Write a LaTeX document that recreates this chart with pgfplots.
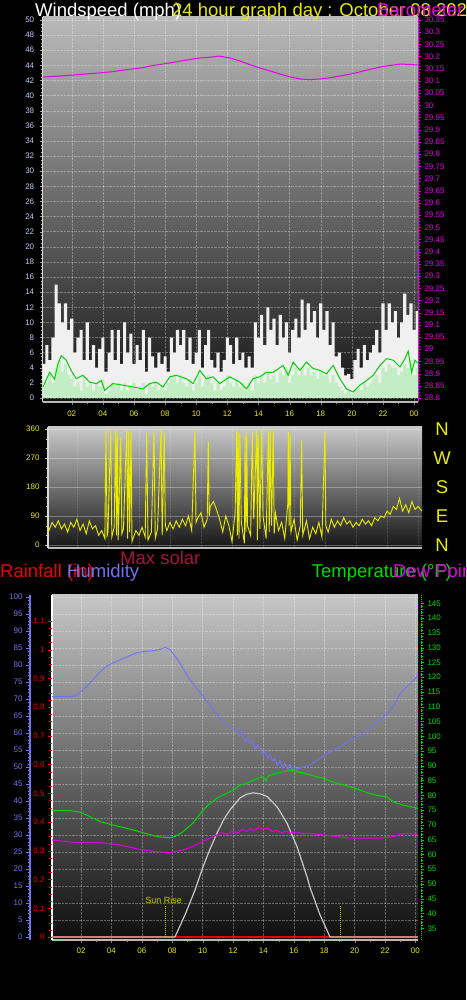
\documentclass[border=0pt]{standalone}
\usepackage{fontspec}
\setmainfont{Liberation Sans}
\usepackage{pgfplots}
\usepackage{pgfplotstable}
\pgfplotsset{compat=1.18}

\definecolor{windlbl}{RGB}{185,205,255}
\definecolor{baro}{RGB}{230,0,230}
\definecolor{ylw}{RGB}{235,235,0}
\definecolor{gustc}{RGB}{240,240,240}
\definecolor{speedc}{RGB}{195,238,195}
\definecolor{avgc}{RGB}{0,210,0}
\definecolor{humc}{RGB}{115,115,240}
\definecolor{tempc}{RGB}{0,220,0}
\definecolor{dewc}{RGB}{225,0,225}
\definecolor{rainc}{RGB}{240,0,0}
\definecolor{solarc}{RGB}{200,200,200}
\definecolor{maxsol}{RGB}{165,20,60}

\newcommand{\tl}{\fontsize{8}{9}\selectfont}
\newcommand{\tf}{\fontsize{18.5}{20}\selectfont}

\pgfplotsset{
  panel/.style={scale only axis, anchor=south west, tick align=outside,
    major tick length=3pt, minor tick length=2pt,
    ticklabel style={font=\tl},
    /pgf/number format/assume math mode=true,
    axis line style={-}},
}

% wind: hour, gust, speed
\pgfplotstableread{
h g s
0.1 4.5 1.5
0.3 7 2
0.5 5 3
0.7 8 2
0.9 15 4
1.1 12.5 5
1.3 10 3.5
1.5 12.5 4.5
1.7 9 3
1.9 10.5 2.5
2.1 6 1.5
2.3 8 2
2.5 9 1
2.7 5 2.5
2.9 10 1.5
3.1 5 2
3.3 7 1
3.5 4 2
3.7 6.5 1.5
3.9 8 2.5
4.1 3.5 0.5
4.3 6 1
4.5 9 2
4.7 5 1.5
4.9 9 2
5.1 4.5 1
5.3 10 2
5.5 6 1
5.7 8.5 1.5
5.9 4.5 2
6.1 7 1
6.3 5 1.5
6.5 9 2
6.7 3.5 0.5
6.9 8 2
7.1 5.5 1.5
7.3 4 2
7.5 6 1
7.7 4.5 1.5
7.9 5.5 1
8.1 3.5 2
8.3 8 2.5
8.5 6 3
8.7 9 2
8.9 7 3
9.1 9 2
9.3 5 1.5
9.5 8 2.5
9.7 4.5 1
9.9 6 2
10.1 9 3
10.3 4 1.5
10.5 7 2.5
10.7 9 3
10.9 5 2
11.1 4 1
11.3 6 2
11.5 3.5 1
11.7 5 1.5
11.9 8 3
12.1 7 2
12.3 4.5 1.5
12.5 8 2.5
12.7 5 1.5
12.9 6 2
13.1 4 1
13.3 5.5 2
13.5 4 1
13.7 10 3
13.9 8 2
14.1 11 3
14.3 7 2
14.5 12 3.5
14.7 9 2.5
14.9 10.5 3
15.1 7 2
15.3 11 3.5
15.5 8 3
15.7 10 4
15.9 6 2
16.1 9 3
16.3 10.5 4
16.5 8 3
16.7 13 4
16.9 9 3
17.1 12.5 4
17.3 10 3
17.5 11.5 3.5
17.7 8 2.5
17.9 12.5 3.5
18.1 9 3
18.3 11.5 3
18.5 7 2
18.7 10 3
18.9 5.5 2
19.1 6 1.5
19.3 4 1
19.5 3 0.5
19.7 3.2 1
19.9 2.5 0.5
20.1 5 1
20.3 6.5 1.5
20.5 4 1
20.7 7 2
20.9 5 1.5
21.1 6 2
21.3 7 2.5
21.5 9 3
21.7 6 2
21.9 12.5 4
22.1 9 3.5
22.3 12.5 4.5
22.5 10 4
22.7 11.5 4
22.9 8 3
23.1 10 3.5
23.3 13.8 4.5
23.5 11 4
23.7 12.5 5
23.9 9 3
24.1 11.5 4
24.3 11.5 4
}\wind

\begin{document}
\begin{tikzpicture}
\fill[black] (0pt,0pt) rectangle (466pt,1000pt);
\useasboundingbox (0pt,0pt) rectangle (466pt,1000pt);

% ---------- panel 1: wind + barometer ----------
\begin{axis}[panel, at={(42.7pt,598pt)}, width=375.3pt, height=385pt,
  xmin=0.135, xmax=24.25, ymin=-0.53, ymax=50.4,
  axis x line*=bottom, axis y line*=left,
  xtick={2,4,...,24}, xticklabels={02,04,06,08,10,12,14,16,18,20,22,00},
  minor x tick num=1,
  ytick={0,2,...,50}, minor y tick num=3,
  grid=major, major grid style={densely dotted, white, opacity=0.3},
  axis background/.style={shade, top color={rgb,255:red,185;green,185;blue,185},
    middle color={rgb,255:red,95;green,95;blue,95},
    bottom color={rgb,255:red,20;green,20;blue,20}},
  x axis line style={draw=gray!55, line width=1.5pt},
  y axis line style={draw=gray!30, line width=1.5pt},
  xticklabel style={color=ylw, yshift=-2pt}, yticklabel style={color=windlbl, xshift=-2pt},
  x tick style={gray}, y tick style={gray!70},
]
\addplot[const plot, fill=gustc, draw=none] table[x=h,y=g]{\wind} \closedcycle;
\addplot[const plot, fill=speedc, draw=none] table[x=h,y=s]{\wind} \closedcycle;
\addplot[avgc, line width=1pt] coordinates {
(0.15,1.45) (0.58,3.4) (0.90,2.5) (1.11,4.5) (1.33,5.6) (1.65,5.0) (1.97,3.6)
(2.29,2.55) (2.72,3.0) (3.15,2.1) (3.58,1.9) (3.90,2.3) (4.12,1.0) (4.65,1.9)
(5.29,1.7) (5.94,1.45) (6.58,1.2) (7.01,1.9) (7.44,2.1) (7.87,1.45) (8.30,2.8)
(8.72,3.0) (9.37,2.55) (9.80,1.9) (10.23,3.65) (10.65,2.55) (11.08,2.8)
(11.51,1.9) (12.15,2.8) (12.80,2.1) (13.23,1.2) (13.65,2.55) (14.08,2.8)
(14.51,3.4) (14.94,3.4) (15.58,4.3) (15.91,3.0) (16.23,4.75) (16.66,3.65)
(17.08,4.75) (17.51,3.9) (17.94,3.65) (18.37,3.2) (18.80,4.3) (19.23,2.55)
(19.66,1.2) (20.09,0.8) (20.51,1.7) (20.94,2.3) (21.37,3.0) (21.80,4.3)
(22.23,5.2) (22.66,5.0) (23.09,4.1) (23.41,5.2) (23.62,6.2) (23.84,3.4) (24.05,5.0) (24.25,4.6)};
\end{axis}

\begin{axis}[panel, at={(42.7pt,598pt)}, width=375.3pt, height=385pt,
  xmin=0.135, xmax=24.25, ymin=28.7836, ymax=30.3623,
  axis x line=none, axis y line*=right,
  ytick={28.8,28.85,28.9,28.95,29,29.05,29.1,29.15,29.2,29.25,29.3,29.35,29.4,29.45,29.5,29.55,29.6,29.65,29.7,29.75,29.8,29.85,29.9,29.95,30,30.05,30.1,30.15,30.2,30.25,30.3,30.35},
  minor y tick num=3,
  y axis line style={draw=baro, line width=1pt}, y tick style={baro},
  yticklabel style={color=baro},
]
\addplot[baro, line width=1pt] coordinates {
(0.135,30.116) (0.6,30.118) (1.2,30.12) (2.0,30.124) (2.8,30.128) (3.8,30.133)
(4.6,30.138) (5.4,30.145) (6.4,30.153) (7.3,30.164) (8.3,30.174) (9.2,30.184)
(10.2,30.194) (10.8,30.197) (11.5,30.202) (12.1,30.195) (12.8,30.182) (13.4,30.168)
(14.1,30.153) (14.8,30.14) (15.4,30.128) (16.0,30.117) (16.7,30.108) (17.3,30.105)
(17.9,30.108) (18.6,30.113) (19.2,30.12) (19.9,30.128) (20.5,30.137) (21.2,30.148)
(21.8,30.157) (22.4,30.163) (23.1,30.169) (23.7,30.168) (24.25,30.165)};
\end{axis}

% ---------- panel 2: wind direction ----------
\begin{axis}[panel, at={(48pt,452pt)}, width=374pt, height=121pt,
  xmin=0.135, xmax=24.25, ymin=-9.3, ymax=366.2,
  axis x line*=bottom, axis y line*=left,
  xtick={2,4,...,24}, xticklabels={},
  ytick={0,90,180,270,360}, minor y tick num=2,
  grid=major, x grid style={densely dotted, white, opacity=0.15},
  y grid style={white, opacity=0.3},
  axis background/.style={shade, top color={rgb,255:red,200;green,200;blue,200},
    bottom color={rgb,255:red,22;green,22;blue,22}},
  x axis line style={draw=gray!55, line width=1.5pt},
  y axis line style={draw=gray!30, line width=1.5pt},
  x tick style={draw=none}, y tick style={ylw},
  yticklabel style={color=ylw, xshift=-2pt},
]
\addplot[ylw, line width=0.9pt] coordinates {
(0.135,50) (0.2,45) (0.4,70) (0.6,55) (0.8,75) (1.0,50) (1.2,65) (1.4,40) (1.6,70)
(1.8,55) (2.0,80) (2.2,45) (2.4,65) (2.6,35) (2.8,75) (3.0,50) (3.2,60) (3.4,30)
(3.6,45) (3.8,20) (3.87,355) (3.95,30) (4.0,40) (4.18,358) (4.25,25) (4.4,55)
(4.50,355) (4.55,30) (4.60,352) (4.66,15) (4.82,335) (4.9,35) (5.0,50) (5.21,358)
(5.27,20) (5.34,355) (5.4,40) (5.49,352) (5.55,10) (5.8,45) (6.0,30) (6.2,55)
(6.4,25) (6.50,350) (6.58,15) (6.8,40) (6.97,356) (7.05,20) (7.2,50) (7.42,358)
(7.5,30) (7.63,350) (7.7,60) (7.8,45) (8.0,70) (8.2,50) (8.4,75) (8.6,55) (8.8,80)
(9.0,60) (9.2,90) (9.4,45) (9.61,358) (9.68,70) (9.8,85) (10.0,100) (10.2,55)
(10.4,80) (10.47,320) (10.53,90) (10.6,120) (10.8,135) (11.0,110) (11.2,80)
(11.4,40) (11.6,90) (11.8,60) (12.0,10) (12.2,100) (12.30,355) (12.35,30)
(12.40,350) (12.45,20) (12.51,345) (12.6,70) (12.8,5) (12.84,340) (12.9,40)
(12.95,355) (13.0,60) (13.2,30) (13.31,352) (13.4,80) (13.59,355) (13.64,15)
(13.69,340) (13.8,50) (13.91,358) (14.0,90) (14.2,20) (14.34,352) (14.4,40)
(14.45,358) (14.55,60) (14.66,358) (14.72,35) (14.8,100) (15.0,45) (15.2,70)
(15.4,20) (15.6,130) (15.63,350) (15.68,60) (15.74,345) (15.8,40) (16.0,80)
(16.2,15) (16.4,60) (16.49,325) (16.56,30) (16.8,75) (17.0,20) (17.2,55) (17.4,35)
(17.6,70) (17.8,25) (17.99,350) (18.05,60) (18.2,40) (18.4,80) (18.6,55) (18.8,75)
(19.0,60) (19.2,85) (19.4,65) (19.6,75) (19.8,55) (20.0,70) (20.2,60) (20.4,80)
(20.6,65) (20.8,75) (21.0,60) (21.2,85) (21.4,75) (21.6,90) (21.8,85) (22.0,105)
(22.2,95) (22.4,120) (22.6,110) (22.8,145) (23.0,105) (23.2,125) (23.4,100)
(23.6,135) (23.8,110) (24.0,120) (24.25,105)};
\end{axis}

\begin{axis}[panel, at={(48pt,452pt)}, width=374pt, height=121pt,
  xmin=0.135, xmax=24.25, ymin=-9.3, ymax=366.2,
  axis x line=none, axis y line*=right,
  ytick={0,90,180,270,360}, yticklabels={N,E,S,W,N},
  y axis line style={draw=none}, y tick style={draw=none},
  yticklabel style={font=\tf, color=ylw, anchor=center, xshift=17pt},
]
\addplot[draw=none] coordinates {(1,0)};
\end{axis}

% ---------- panel 3: humidity, temperature, dew point, solar ----------
\begin{axis}[panel, at={(52pt,60pt)}, width=366pt, height=345pt,
  xmin=0.092, xmax=24.17, ymin=-0.882, ymax=100.59,
  axis x line*=bottom, axis y line*=left,
  xtick={2,4,...,24}, xticklabels={02,04,06,08,10,12,14,16,18,20,22,00},
  minor x tick num=1,
  ytick={0,5,...,100}, yticklabels={},
  grid=major, major grid style={densely dotted, white, opacity=0.3},
  axis background/.style={shade, top color={rgb,255:red,198;green,198;blue,198},
    middle color={rgb,255:red,100;green,100;blue,100},
    bottom color={rgb,255:red,14;green,14;blue,14}},
  x axis line style={draw=gray!55, line width=1.5pt},
  y axis line style={draw=white, line width=1.2pt},
  xticklabel style={color=ylw, yshift=-1pt},
  x tick style={gray}, y tick style={draw=none},
]
% rainfall (0 all day)
\addplot[rainc, line width=2pt] coordinates {(0.092,0) (24.17,0)};
% max solar: zero before sunrise and after sunset
\addplot[solarc, line width=1.4pt, opacity=0.6] coordinates {(0.092,0) (8.18,0)};
\addplot[solarc, line width=1.4pt, opacity=0.6] coordinates {(18.38,0) (24.17,0)};
\addplot[solarc, line width=1.2pt] coordinates {
(8.18,0) (8.87,6.8) (9.5,13.8) (10.03,20.7) (10.5,26) (10.95,30.6)
(11.4,34.6) (11.8,37.4) (12.46,40.9) (12.9,42) (13.32,42.4) (13.8,42.1) (14.24,41.3)
(14.9,38.3) (15.55,33.5) (16.21,26.6) (16.87,17.7) (17.07,14.5) (17.7,6.8) (18.38,0)};
% sunrise / sunset
\addplot[ylw!85!black, densely dotted, line width=1pt] coordinates {(7.53,0) (7.53,9.1)};
\addplot[ylw!85!black, densely dotted, line width=1pt] coordinates {(19.04,0) (19.04,9.1)};
\node[font=\fontsize{9}{10}\selectfont, text=ylw!85!black, inner sep=0pt] at (axis cs:7.43,10.8) {Sun Rise};
% humidity
\addplot[humc, line width=1pt] coordinates {
(0.09,70.7) (0.62,70.8) (1.28,70.7) (1.67,71) (1.93,72) (2.33,73.5) (2.79,75.6)
(3.25,78) (3.64,79.5) (4.11,80.6) (4.57,81.5) (5.03,82.4) (5.68,83.6) (6.21,84)
(6.74,84.2) (7.2,84.6) (7.53,85.2) (7.86,84.5) (8.38,81.5) (8.78,78.5) (9.17,75.6)
(9.83,72) (10.49,68) (11.14,64.4) (11.8,61.5) (12.2,60.8) (12.46,59.4) (12.6,60.5)
(12.78,57.5) (12.95,58.6) (13.12,57) (13.3,57.8) (13.46,55) (13.62,56.5)
(13.78,55.6) (13.95,53.8) (14.11,54.5) (14.27,52.6) (14.43,53.8) (14.6,51.8)
(14.76,52.5) (14.92,50.5) (15.09,51.8) (15.25,49.8) (15.42,51) (15.58,49.2)
(15.75,50.8) (15.92,48.8) (16.08,50) (16.25,49.2) (16.41,49.7) (16.75,50.2)
(17.07,50.6) (17.72,52.6) (18.38,54.4) (19.04,55.9) (19.7,57.8) (20.36,59.4)
(21.01,61.5) (21.67,63.8) (22.33,66.5) (22.66,68.7) (22.99,71.5) (23.32,73)
(23.64,74.4) (24.17,76.8)};
\end{axis}

% rainfall axis (left, red)
\begin{axis}[panel, at={(52pt,60pt)}, width=366pt, height=345pt,
  xmin=0.092, xmax=24.17, ymin=-0.0104, ymax=1.19,
  axis x line=none, axis y line*=left,
  ytick={0,0.1,0.2,0.3,0.4,0.5,0.6,0.7,0.8,0.9,1,1.1}, minor y tick num=3,
  major tick length=4pt, minor tick length=3pt,
  y axis line style={draw=none}, y tick style={rainc},
  yticklabel style={color=rainc},
]
\addplot[draw=none] coordinates {(1,0)};
\end{axis}

% temperature / dew point axis (right, green)
\begin{axis}[panel, at={(52pt,60pt)}, width=366pt, height=345pt,
  xmin=0.092, xmax=24.17, ymin=31.04, ymax=147.81,
  axis x line=none, axis y line*=right,
  ytick={35,40,...,145}, minor y tick num=4,
  y axis line style={draw=tempc, densely dotted, line width=1pt, xshift=3pt},
  y tick style={tempc, xshift=3pt},
  yticklabel style={color=tempc, xshift=3pt},
]
\addplot[tempc, line width=1pt] coordinates {
(0.09,74.8) (1.28,74.8) (1.93,74.3) (2.6,72.8) (3.25,71.1) (4.24,69.8) (5.42,68.3)
(6.2,67.2) (7.0,66.0) (7.86,65.6) (8.25,66.2) (8.71,67.7) (9.37,70.6) (10.03,75)
(10.5,77.3) (10.95,79.1) (11.4,80.2) (11.8,81.2) (12.15,82.3) (12.46,83.5)
(12.8,83.9) (13.12,84.6) (13.4,85.2) (13.58,85.7) (13.97,86.3) (14.17,84.8)
(14.3,86.5) (14.43,86.8) (14.89,87.5) (15.2,87.9) (15.55,88.2) (15.88,88.6)
(16.21,88) (16.6,87.6) (17.07,86.9) (17.5,86.3) (17.92,85.8) (18.4,84.9)
(18.84,84.1) (19.3,83.5) (19.7,82.9) (20.36,81.8) (21.01,80.6) (21.67,79.8)
(22.13,79.5) (22.53,77.8) (23.18,76.7) (23.64,76.2) (24.17,75.6)};
\addplot[dewc, line width=1pt] coordinates {
(0.09,64.9) (1.48,64.1) (3.25,64.0) (4.57,63.2) (5.88,61.7) (7.0,60.9) (7.86,60.6)
(8.71,61.5) (9.3,62.6) (9.8,63.8) (10.4,65.3) (10.95,66.6) (11.3,67.4) (11.6,66.8)
(12.0,67.9) (12.3,67.2) (12.6,68.4) (12.9,67.8) (13.12,68.7) (13.4,68.1) (13.7,69.1)
(13.97,68.5) (14.3,68.9) (14.6,67.7) (14.89,68.2) (15.2,67.3) (15.5,67.9)
(15.75,67.2) (16.1,67.6) (16.61,67.1) (17.1,67.2) (17.53,66.8) (18.2,66.5)
(18.84,66) (19.7,65.5) (20.7,65.5) (21.67,65.5) (22.53,66) (23.18,67.1)
(23.84,66.9) (24.17,66.9)};
\end{axis}

% humidity scale (far left, blue)
\begin{axis}[panel, at={(30pt,60pt)}, width=1pt, height=345pt,
  xmin=0, xmax=1, ymin=-0.882, ymax=100.59,
  axis x line=none, axis y line*=left,
  ytick={0,5,...,100}, minor y tick num=4,
  major tick length=4pt, minor tick length=2.5pt,
  y axis line style={draw=humc, line width=2pt}, y tick style={humc},
  yticklabel style={color=humc},
]
\addplot[draw=none] coordinates {(0,0)};
\end{axis}

% ---------- titles ----------
\begin{scope}[every node/.style={anchor=base west, inner sep=0pt, font=\tf}]
\node[text=white] at (35pt,983.3pt) {Windspeed (mph)};
\node[text=ylw] at (172pt,983.3pt) {24 hour graph day : October 08 2024};
\node[text=baro] at (377pt,983.3pt) {Barometer (in)};
\node[text=maxsol] at (120pt,435pt) {Max solar};
\node[text=rainc] at (0pt,422pt) {Rainfall (in)};
\node[text=humc] at (67pt,422pt) {Humidity};
\node[text=tempc] at (311.7pt,422pt) {Temperature (°F)};
\node[text=dewc] at (393pt,422pt) {Dew Point};
\end{scope}
\end{tikzpicture}
\end{document}
